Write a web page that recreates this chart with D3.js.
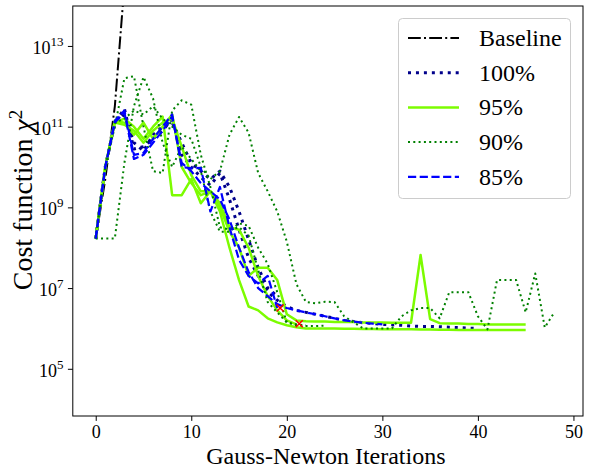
<!DOCTYPE html>
<html>
<head>
<meta charset="utf-8">
<script src="https://cdn.jsdelivr.net/npm/d3@7"></script>
<style>
  html, body { margin: 0; padding: 0; background: #ffffff; }
  svg { display: block; }
</style>
</head>
<body>
<svg id="chart" width="590" height="469"></svg>
<script>
// ---------------- DATA ----------------
// x of every run is its Gauss-Newton iteration index (0, 1, 2, ...)
const xTickValues = [0, 10, 20, 30, 40, 50];
const yTickValues = [1e5, 1e7, 1e9, 1e11, 1e13];
const seriesNames = ["Baseline", "100%", "95%", "90%", "85%"];

const baselineRun = [1.7e8, 5e9, 3.2e11, 3.2e14];

const runs100 = [
  [1.7e8, 1e10, 1.26e11, 2.8e11, 2.8e10, 3.2e10, 5e10, 7.9e10, 1.58e11, 2e10, 1e10, 5.6e9, 3.5e9, 7.1e9, 1.58e9, 2.8e8, 5.6e7, 2e7, 7.9e6, 5e6, 3.5e6, 2.8e6, 2.5e6, 2.24e6, 2e6, 1.78e6, 1.58e6, 1.48e6, 1.38e6, 1.32e6, 1.26e6, 1.23e6, 1.2e6, 1.15e6, 1.12e6, 1.12e6, 1.1e6, 1.07e6, 1.05e6, 1.02e6, 1e6],
  [1.7e8, 1e10, 1.26e11, 2e11, 4e10, 2.5e10, 6.3e10, 1e11, 1.26e11, 4e10, 1.26e10, 7.9e9, 5e9, 7.9e9, 3.2e9, 7.9e8, 1.58e8, 3.2e7, 1e7, 6.3e6]
];

const runs95 = [
  [1.7e8, 1e10, 1.41e11, 1.26e11, 6.3e10, 1.26e11, 5e10, 1e11, 2e11, 1e10, 4e9, 2e9, 2.5e9, 1e9, 2.5e8, 1e8, 2e7, 3.2e7, 3.2e7, 1.58e7, 2.24e6, 1.58e6, 1.5e6, 1.48e6, 1.48e6, 1.45e6, 1.45e6, 1.45e6, 1.41e6, 1.41e6, 1.41e6, 1.38e6, 1.38e6, 1.38e6, 6.6e7, 1.7e6, 1.35e6, 1.32e6, 1.32e6, 1.29e6, 1.29e6, 1.26e6, 1.26e6, 1.26e6, 1.26e6, 1.26e6],
  [1.7e8, 1e10, 1.26e11, 1.58e11, 1e11, 5e10, 1e11, 1.78e11, 2e9, 2e9, 5e9, 1.26e9, 2.5e9, 7.9e8, 1e8, 1.58e7, 3.5e6, 2.8e6, 1.78e6, 1.41e6, 1.2e6, 1.07e6, 1e6, 1e6, 9.9e5, 9.9e5, 9.8e5, 9.8e5, 9.7e5, 9.7e5, 9.6e5, 9.6e5, 9.5e5, 9.5e5, 9.4e5, 9.4e5, 9.3e5, 9.3e5, 9.2e5, 9.2e5, 9.2e5, 9.1e5, 9.1e5, 9.1e5, 9.1e5, 9.1e5],
  [1.7e8, 1e10, 1.26e11, 1.12e11, 7.9e10, 4e10, 7.9e10, 1.26e11, 1.58e11, 3.2e10, 6.3e9, 2.5e9, 2.5e9, 1.26e9, 3.2e8, 2.8e8, 1e8, 2e7, 6.3e6, 2.8e6, 1.58e6, 1.26e6]
];

const runs90 = [
  [1.7e8, 1.7e8, 1.7e8, 1.26e10, 3.2e11, 1.7e12, 5e11, 4e10, 1e10, 3.2e10, 1.58e10, 7.9e9, 7.9e8, 2.5e8, 2.5e8, 4e8, 3.5e8, 1e8, 4e7, 7.9e6, 1.41e6, 1.2e6, 1.15e6, 1.15e6, 1.17e6],
  [1.7e8, 1e10, 1e11, 1.58e12, 1.78e12, 1e11, 7.9e9, 7.1e9, 2.5e11, 4.5e11, 3.5e11, 2e10, 3.2e9, 3.2e8, 2.8e8, 3.2e8, 2e8, 2.8e7, 4.5e6, 2.5e6, 1.41e6, 1.26e6, 1.2e6],
  [1.7e8, 1e10, 1.26e11, 1.58e11, 2.5e11, 2e11, 3.2e11, 1.58e11, 1e11, 6.3e10, 5e10, 1e10, 5e9, 7.9e9, 6.3e10, 1.74e11, 7.1e10, 7.1e9, 2.5e9, 7.9e8, 1.41e8, 1.26e7, 4.5e6, 4.2e6, 4.6e6, 4.5e6, 2e6, 1.41e6, 1e6, 1e6, 1e6, 1e6, 2e6, 2.8e6, 3.2e6, 3.2e6, 1.78e6, 7.9e6, 7.9e6, 7.9e6, 2e6, 9.5e5, 1.58e7, 1.58e7, 1.58e7, 2.5e6, 2.3e7, 1.05e6, 2.5e6]
];

const runs85 = [
  [1.7e8, 1e10, 1.41e11, 2.5e11, 2e10, 2.24e10, 5e10, 1e11, 2e11, 1e10, 9.3e9, 9.5e9, 7.9e8, 3.2e9, 3.2e8, 5e7, 2e7, 1.3e7, 2e7, 3.2e6],
  [1.7e8, 1e10, 1.26e11, 2.24e11, 1.58e10, 2e10, 4e10, 7.9e10, 1.78e11, 1.26e10, 7.9e9, 4e9, 2.5e9, 1.58e9, 5e8, 1e8, 2.5e7, 1e7, 6.3e6, 4e6, 3.2e6, 2.8e6, 2.5e6, 2.24e6, 2e6, 1.78e6, 1.58e6, 1.48e6, 1.38e6, 1.32e6, 1.26e6]
];

// red "x" markers: [iteration, cost]
const failMarkers = [[19.3, 3.2e6], [21.3, 1.3e6]];

// ---------------- STYLES ----------------
const styles = {
  "Baseline": { color: "#000000", width: 2.0, dash: "12.8,3.2,2,3.2" },
  "100%":     { color: "#00008b", width: 3.0, dash: "3,4.95" },
  "95%":      { color: "#7cfc00", width: 2.5, dash: null },
  "90%":      { color: "#008000", width: 2.0, dash: "2,3.3" },
  "85%":      { color: "#0000ff", width: 2.2, dash: "8.2,3.5" }
};
const serif = "'Liberation Serif', 'DejaVu Serif', serif";

// ---------------- LAYOUT ----------------
const plot = { left: 72.8, right: 583, top: 6, bottom: 416 };
const svg = d3.select("#chart");

const x = d3.scaleLinear().domain([-2.4, 51.0]).range([plot.left, plot.right]);
const y = d3.scaleLog().domain([6.76e3, 9.77e13]).range([plot.bottom, plot.top]);

svg.append("defs").append("clipPath").attr("id", "clip")
  .append("rect")
  .attr("x", plot.left).attr("y", plot.top)
  .attr("width", plot.right - plot.left).attr("height", plot.bottom - plot.top);

const line = d3.line().x((d, i) => x(i)).y(d => y(d));

const seriesRuns = [
  ["Baseline", [baselineRun]],
  ["100%", runs100],
  ["95%", runs95],
  ["90%", runs90],
  ["85%", runs85]
];

const gLines = svg.append("g").attr("clip-path", "url(#clip)");
seriesRuns.forEach(([name, runs]) => {
  const st = styles[name];
  gLines.selectAll(null).data(runs).enter().append("path")
    .attr("d", line)
    .attr("fill", "none")
    .attr("stroke", st.color)
    .attr("stroke-width", st.width)
    .attr("stroke-dasharray", st.dash)
    .attr("stroke-linejoin", "round");
});

// red x markers
const ms = 3.5;
const gMk = gLines.append("g");
failMarkers.forEach(([it, v]) => {
  const cx = x(it), cy = y(v);
  gMk.append("path")
    .attr("d", `M${cx - ms},${cy - ms}L${cx + ms},${cy + ms}M${cx - ms},${cy + ms}L${cx + ms},${cy - ms}`)
    .attr("stroke", "#ff0000").attr("stroke-width", 1.5).attr("fill", "none");
});

// ---------------- AXES ----------------
const tickLen = 4.9;
const xAxis = d3.axisBottom(x).tickValues(xTickValues).tickSize(tickLen).tickSizeOuter(0).tickPadding(4).tickFormat(d3.format("d"));
const gx = svg.append("g").attr("transform", `translate(0,${plot.bottom})`).call(xAxis);
gx.select(".domain").remove();
gx.selectAll(".tick line").attr("stroke", "#000").attr("stroke-width", 1);
gx.selectAll(".tick text").attr("font-family", serif).attr("font-size", 18).attr("fill", "#000");

const yAxis = d3.axisLeft(y).tickValues(yTickValues).tickSize(tickLen).tickSizeOuter(0).tickFormat("");
const gy = svg.append("g").attr("transform", `translate(${plot.left},0)`).call(yAxis);
gy.select(".domain").remove();
gy.selectAll(".tick line").attr("stroke", "#000").attr("stroke-width", 1);
gy.selectAll(".tick").each(function (d) {
  const t = d3.select(this).append("text")
    .attr("x", -tickLen - 4.5)
    .attr("y", 7.5)
    .attr("text-anchor", "end")
    .attr("font-family", serif)
    .attr("font-size", 18)
    .attr("fill", "#000");
  t.append("tspan").text("10");
  t.append("tspan").attr("font-size", 13).attr("dy", -8).text(String(Math.round(Math.log10(d))));
});

// spines
svg.append("rect")
  .attr("x", plot.left).attr("y", plot.top)
  .attr("width", plot.right - plot.left).attr("height", plot.bottom - plot.top)
  .attr("fill", "none").attr("stroke", "#000").attr("stroke-width", 1);

// axis titles
svg.append("text")
  .attr("x", (plot.left + plot.right) / 2 - 2).attr("y", 464)
  .attr("text-anchor", "middle")
  .attr("font-family", serif).attr("font-size", 24).attr("fill", "#000")
  .text("Gauss-Newton Iterations");

const yl = svg.append("text")
  .attr("transform", `translate(32,200) rotate(-90)`)
  .attr("text-anchor", "middle")
  .attr("font-family", serif).attr("font-size", 28).attr("fill", "#000");
yl.append("tspan").text("Cost function ");
yl.append("tspan").attr("font-style", "italic").text("χ");
yl.append("tspan").attr("font-size", 19).attr("dy", -10).text("2");

// ---------------- LEGEND ----------------
const lg = svg.append("g");
lg.append("rect")
  .attr("x", 398.5).attr("y", 18.5).attr("width", 172).attr("height", 180)
  .attr("rx", 4).attr("ry", 4)
  .attr("fill", "#ffffff").attr("fill-opacity", 0.8)
  .attr("stroke", "#cccccc").attr("stroke-width", 1);

seriesNames.forEach((name, i) => {
  const st = styles[name];
  const cy = 38 + i * 34.7;
  lg.append("line")
    .attr("x1", 408).attr("x2", 459).attr("y1", cy).attr("y2", cy)
    .attr("stroke", st.color).attr("stroke-width", st.width)
    .attr("stroke-dasharray", st.dash);
  lg.append("text")
    .attr("x", 479).attr("y", cy + 8)
    .attr("font-family", serif).attr("font-size", 24).attr("fill", "#000")
    .text(name);
});
</script>
</body>
</html>
